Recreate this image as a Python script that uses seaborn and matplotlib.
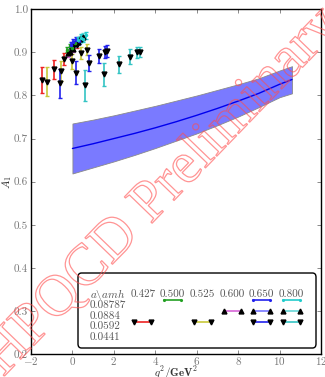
import matplotlib
matplotlib.use("Agg")
import matplotlib.pyplot as plt
import matplotlib.patheffects as pe
from matplotlib.patches import FancyBboxPatch
from matplotlib.lines import Line2D
import numpy as np
import pandas as pd
import seaborn as sns

# ---- chiral/continuum fit band for A1(q^2) ----
fit_q2 = [0.0, 1.0, 2.0, 3.0, 4.0, 5.0, 6.0, 7.0, 8.0, 9.0, 10.0, 10.6]
fit_mid = [0.677, 0.688, 0.700, 0.712, 0.725, 0.739, 0.754, 0.770, 0.787, 0.805, 0.826, 0.837]
fit_hi = [0.735, 0.744, 0.754, 0.765, 0.776, 0.788, 0.800, 0.813, 0.826, 0.840, 0.858, 0.868]
fit_lo = [0.619, 0.633, 0.647, 0.662, 0.678, 0.695, 0.712, 0.731, 0.751, 0.773, 0.796, 0.805]

# ---- lattice data: one block per (a, am_h) ensemble ----
red_q2 = [-1.48, -0.88, -0.40, 0.05, 0.20]
red_a1 = [0.836, 0.861, 0.884, 0.912, 0.918]
red_err = [0.031, 0.022, 0.014, 0.008, 0.008]

yellow_q2 = [-1.25, -0.56, -0.03, 0.40, 0.71]
yellow_a1 = [0.832, 0.857, 0.879, 0.898, 0.906]
yellow_err = [0.033, 0.024, 0.017, 0.014, 0.013]

blue592_q2 = [-0.61, 0.16, 0.82, 1.27, 1.59, 1.67]
blue592_a1 = [0.828, 0.853, 0.875, 0.892, 0.902, 0.903]
blue592_err = [0.033, 0.026, 0.019, 0.016, 0.014, 0.014]

cyan592_q2 = [0.625, 1.51, 2.26, 2.80, 3.14, 3.27]
cyan592_a1 = [0.824, 0.849, 0.872, 0.890, 0.900, 0.901]
cyan592_err = [0.036, 0.027, 0.019, 0.017, 0.012, 0.012]

green_q2 = [-0.25, -0.12, 0.00, 0.12]
green_a1 = [0.906, 0.914, 0.911, 0.921]
green_err = [0.006, 0.006, 0.006, 0.006]

blue878_q2 = [-0.08, 0.05, 0.18, 0.30]
blue878_a1 = [0.918, 0.924, 0.929, 0.927]
blue878_err = [0.007, 0.007, 0.007, 0.007]

cyan878_q2 = [0.25, 0.40, 0.52, 0.65]
cyan878_a1 = [0.928, 0.934, 0.932, 0.940]
cyan878_err = [0.008, 0.008, 0.008, 0.008]

magenta_q2 = [-0.22, -0.10, 0.02]
magenta_a1 = [0.898, 0.902, 0.909]
magenta_err = [0.008, 0.008, 0.008]

lblue_q2 = [-0.02, 0.12, 0.26]
lblue_a1 = [0.915, 0.921, 0.925]
lblue_err = [0.008, 0.008, 0.008]

lcyan_q2 = [0.18, 0.35, 0.50]
lcyan_a1 = [0.923, 0.930, 0.936]
lcyan_err = [0.009, 0.009, 0.009]

spacings = ["0.08787", "0.0884", "0.0592", "0.0441"]
heavy_masses = ["0.427", "0.500", "0.525", "0.600", "0.650", "0.800"]

ensembles = [
    ("0.0592", "0.427", "#ee2222", "v", red_q2, red_a1, red_err),
    ("0.0592", "0.525", "#c8c83a", "v", yellow_q2, yellow_a1, yellow_err),
    ("0.0592", "0.650", "#2222ee", "v", blue592_q2, blue592_a1, blue592_err),
    ("0.0592", "0.800", "#33c4c4", "v", cyan592_q2, cyan592_a1, cyan592_err),
    ("0.0884", "0.600", "#d766d7", "^", magenta_q2, magenta_a1, magenta_err),
    ("0.0884", "0.650", "#7777ff", "^", lblue_q2, lblue_a1, lblue_err),
    ("0.0884", "0.800", "#66d6d6", "^", lcyan_q2, lcyan_a1, lcyan_err),
    ("0.08787", "0.500", "#22a022", ".", green_q2, green_a1, green_err),
    ("0.08787", "0.650", "#2222ee", ".", blue878_q2, blue878_a1, blue878_err),
    ("0.08787", "0.800", "#22cccc", ".", cyan878_q2, cyan878_a1, cyan878_err),
]

sns.set_style("ticks")
plt.rcParams["font.family"] = ["cmr10", "DejaVu Serif"]
plt.rcParams["mathtext.fontset"] = "cm"
plt.rcParams["axes.formatter.use_mathtext"] = True
plt.rcParams["axes.unicode_minus"] = True

fig = plt.figure(figsize=(3.25, 3.77), dpi=100)
ax = fig.add_axes([0.0954, 0.061, 0.8923, 0.9143])

# fit band and central curve
ax.fill_between(fit_q2, fit_lo, fit_hi, facecolor="#7a7aff", edgecolor="#8a8a8a",
                linewidth=0.6, zorder=2)
fit_df = pd.DataFrame({"q2": fit_q2, "A1": fit_mid})
sns.lineplot(data=fit_df, x="q2", y="A1", color="#0000ee", linewidth=1.0, ax=ax, zorder=3)

# data points with error bars
for a, amh, col, mk, q2, a1, err in ensembles:
    mfc = col if mk == "." else "black"
    ms = 3 if mk == "." else 3.5
    ax.errorbar(q2, a1, yerr=err, fmt=mk, color=col, mfc=mfc, mec=mfc, ms=ms,
                elinewidth=1.2, capsize=1.5, capthick=1.0, zorder=4)

ax.set_xlim(-2, 12)
ax.set_ylim(0.2, 1.0)
ax.set_xticks(np.arange(-2, 13, 2))
yt = np.round(np.arange(0.2, 1.01, 0.1), 1)
ax.set_yticks(yt)
ax.set_yticklabels([f"{v:.1f}" for v in yt])
ax.tick_params(direction="in", top=True, right=True, length=3, width=0.6,
               labelsize=8, colors="#777777", pad=2)
ax.tick_params(axis="x", pad=0.5)
for s in ax.spines.values():
    s.set_color("black")
    s.set_linewidth(1.0)
ax.set_xlabel(r"$q^2/\mathbf{GeV}^2$", fontsize=8, labelpad=-1.5, color="#333333")
ax.set_ylabel(r"$A_1$", fontsize=8, labelpad=0, color="#333333")

# table-style legend box
def ax_xy(px, py):
    return (px - 31) / 290.0, (354 - py) / 344.7

bx0, by0 = ax_xy(78, 348)
bx1, by1 = ax_xy(316, 273)
box = FancyBboxPatch((bx0, by0), bx1 - bx0, by1 - by0,
                     boxstyle="round,pad=0,rounding_size=0.012",
                     transform=ax.transAxes, facecolor="white", edgecolor="black",
                     linewidth=1.0, zorder=6)
ax.add_patch(box)

tcol = "#555555"
fs = 8
col_x = [142.7, 172.3, 202.3, 232.3, 261.7, 291.7]
line_y = [300.0, 311.0, 321.5, 332.0]
text_shift = 4.0
hx, hy = ax_xy(90, 290.5 + text_shift)
ax.text(hx, hy, r"$a\backslash amh$", transform=ax.transAxes, fontsize=fs,
        color=tcol, va="center", ha="left", zorder=7)
for m, cx in zip(heavy_masses, col_x):
    x, y = ax_xy(cx, 290.5 + text_shift)
    ax.text(x, y, m, transform=ax.transAxes, fontsize=fs, color=tcol,
            va="center", ha="center", zorder=7)
for s, ry in zip(spacings, line_y):
    x, y = ax_xy(90, ry + 1 + text_shift)
    ax.text(x, y, s, transform=ax.transAxes, fontsize=fs, color=tcol,
            va="center", ha="left", zorder=7)

for a, amh, col, mk, q2, a1, err in ensembles:
    cx = col_x[heavy_masses.index(amh)]
    ry = line_y[spacings.index(a)]
    x0, y0 = ax_xy(cx - 8.5, ry)
    x1, _ = ax_xy(cx + 8.5, ry)
    mfc = col if mk == "." else "black"
    ln = Line2D([x0, x1], [y0, y0], color=col, lw=1.2, marker=mk, mfc=mfc, mec=mfc,
                ms=2.5 if mk == "." else 3.5, transform=ax.transAxes, zorder=7)
    ax.add_line(ln)

# collaboration watermark
fig.text(0.50, 0.49, "HPQCD Preliminary", fontsize=42, rotation=46,
         family=["Liberation Serif", "DejaVu Serif"], color="none",
         ha="center", va="center", zorder=10,
         path_effects=[pe.withStroke(linewidth=0.9, foreground=(1, 0.3, 0.3, 0.6))])

fig.savefig("out.png", dpi=100)
